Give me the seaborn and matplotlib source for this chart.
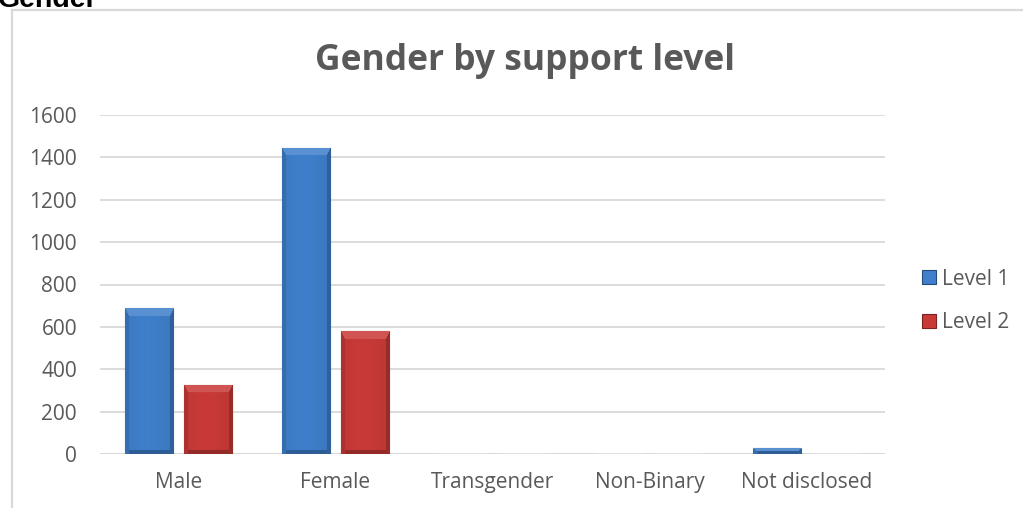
import numpy as np
import pandas as pd
import seaborn as sns
import matplotlib.pyplot as plt
from matplotlib.colors import to_rgb
from matplotlib.patches import Rectangle

# Chart data
categories = ["Male", "Female", "Transgender", "Non-Binary", "Not disclosed"]
series = ["Level 1", "Level 2"]
level1 = [688, 1445, 0, 0, 28]
level2 = [328, 580, 0, 0, 2]
yticks = [0, 200, 400, 600, 800, 1000, 1200, 1400, 1600]

df = pd.DataFrame({
    "Gender": categories * 2,
    "Count": level1 + level2,
    "Level": [series[0]] * len(categories) + [series[1]] * len(categories),
})

BLUE = "#3F7FCB"
RED = "#C93A37"
TEXT = "#595959"
GRID = "#D9D9D9"

sns.set_theme(style="white")
plt.rcParams["font.family"] = ["Open Sans", "DejaVu Sans"]

W, H = 1023, 508
fig = plt.figure(figsize=(W / 100, H / 100), dpi=100)
fig.patch.set_facecolor("white")


def px(x0, y0, x1, y1):
    """Pixel box (top-left origin) -> figure fraction rect."""
    return [x0 / W, 1 - y1 / H, (x1 - x0) / W, (y1 - y0) / H]


# Outer chart frame (extends past the right and bottom edges)
fig.patches.append(Rectangle((12 / W, -0.1), 1.2, 1 - 10 / H + 0.1,
                             transform=fig.transFigure, fill=False,
                             edgecolor=GRID, linewidth=1.6, zorder=0))

# Section heading, partly above the top edge
fig.text(-2 / W, 1 - 7 / H, "Gender", fontsize=20.5, fontweight="bold",
         color="black", family=["Liberation Sans", "DejaVu Sans"],
         ha="left", va="baseline")

ax = fig.add_axes(px(100, 115, 885, 454))
sns.barplot(data=df, x="Gender", y="Count", hue="Level", order=categories,
            hue_order=series, palette=[BLUE, RED], width=0.74, gap=0.173,
            saturation=1, ax=ax, legend=True, zorder=3)

ax.set_ylim(0, 1600)
ax.set_xlim(-0.5, len(categories) - 0.5)
ax.set_yticks(yticks)
ax.set_yticklabels([str(v) for v in yticks])
ax.set_xlabel("")
ax.set_ylabel("")
for s in ax.spines.values():
    s.set_visible(False)
ax.grid(axis="y", color=GRID, linewidth=1.3, zorder=0)
ax.set_axisbelow(True)
ax.axhline(0, color=GRID, linewidth=1.8, zorder=2)
ax.tick_params(axis="y", length=0, pad=16.5, labelsize=15, labelcolor=TEXT)
ax.tick_params(axis="x", length=0, pad=13, labelsize=15, labelcolor=TEXT)

fig.text(525 / W, 1 - 70 / H, "Gender by support level", fontsize=25.5,
         fontweight="bold", color=TEXT, ha="center", va="baseline")

# Bevelled bar faces
fig.canvas.draw()


def shade(c, f):
    c = np.array(to_rgb(c))
    if f >= 1:
        return c + (1 - c) * (f - 1)
    return c * f


def bevel(patch):
    bb = patch.get_window_extent()
    w = max(int(round(bb.width)), 1)
    h = max(int(round(bb.height)), 1)
    if bb.height < 0.5:
        return
    base = patch.get_facecolor()[:3]
    b_top = min(8, max(h // 2, 1))
    b_side = min(4, w // 2)
    jj, ii = np.meshgrid(np.arange(w), np.arange(h))
    # Body: gentle horizontal falloff
    body_f = 1.0 - 0.10 * np.abs((jj + 0.5) / w - 0.45)
    img = body_f[..., None] * np.array(base)[None, None, :]
    # Sides (thin, darker)
    left = jj < b_side
    right = (w - 1 - jj) < b_side
    bottom = (h - 1 - ii) < b_side
    img[left] = shade(base, 0.86)
    img[right] = shade(base, 0.76)
    img[bottom & ~left & ~right] = shade(base, 0.74)
    # Top bevel: trapezoid that is lighter
    top = (ii < b_top) & (jj >= ii * b_side / b_top) & ((w - 1 - jj) >= ii * b_side / b_top)
    img[top] = shade(base, 1.14)
    img = np.clip(img, 0, 1)
    x0, y0 = patch.get_x(), patch.get_y()
    x1, y1 = x0 + patch.get_width(), y0 + patch.get_height()
    im = ax.imshow(img, extent=(x0, x1, y0, y1), origin="upper",
                   aspect="auto", interpolation="bilinear", zorder=4)
    im.set_clip_path(patch)
    patch.set_edgecolor(shade(base, 0.62))
    patch.set_linewidth(0.8)


for p in list(ax.patches):
    bevel(p)
ax.set_xlim(-0.5, len(categories) - 0.5)
ax.set_ylim(0, 1600)

handles, labels = ax.get_legend_handles_labels()
if ax.get_legend() is not None:
    ax.get_legend().remove()
for hnd in handles:
    fc = hnd.get_facecolor()[:3]
    hnd.set_edgecolor(shade(fc, 0.6))
    hnd.set_linewidth(0.8)
leg = fig.legend(handles, labels, loc="center left",
                 bbox_to_anchor=(922 / W, 1 - 301 / H), frameon=False,
                 fontsize=15, handlelength=0.68, handleheight=0.68,
                 handletextpad=0.3, labelspacing=1.1, borderpad=0,
                 borderaxespad=0)
for t in leg.get_texts():
    t.set_color(TEXT)

fig.savefig("out.png", dpi=100, facecolor="white")
